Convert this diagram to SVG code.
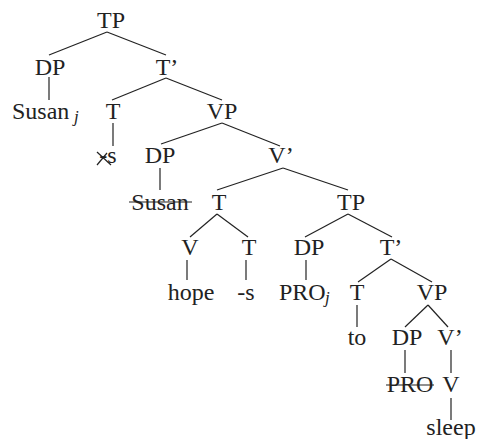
<svg xmlns="http://www.w3.org/2000/svg" width="479" height="439" viewBox="0 0 479 439">
<style>
text{font-family:"Liberation Serif","Times New Roman",serif;font-size:24px;fill:#222;text-anchor:middle}
.sub{font-size:17px;font-style:italic;text-anchor:start}
.st{text-anchor:start}
line{stroke:#222;stroke-width:1.2}
</style>
<rect width="479" height="439" fill="#fff"/>
<g id="connectors">
<line x1="107" y1="32" x2="49" y2="55"/>
<line x1="107" y1="32" x2="166" y2="55"/>
<line x1="49" y1="77" x2="49" y2="100"/>
<line x1="166" y1="78" x2="112" y2="100"/>
<line x1="166" y1="78" x2="222" y2="100"/>
<line x1="113" y1="123" x2="113" y2="146"/>
<line x1="222" y1="123" x2="161" y2="144"/>
<line x1="222" y1="123" x2="280" y2="146"/>
<line x1="160" y1="168" x2="160" y2="190"/>
<line x1="283" y1="168" x2="217" y2="190"/>
<line x1="283" y1="168" x2="348" y2="190"/>
<line x1="217" y1="214" x2="190" y2="237"/>
<line x1="217" y1="214" x2="248" y2="237"/>
<line x1="348" y1="214" x2="305" y2="237"/>
<line x1="348" y1="214" x2="392" y2="237"/>
<line x1="187" y1="260" x2="187" y2="280"/>
<line x1="246" y1="260" x2="246" y2="280"/>
<line x1="306" y1="260" x2="306" y2="280"/>
<line x1="391" y1="259" x2="358" y2="282"/>
<line x1="391" y1="259" x2="432" y2="282"/>
<line x1="357" y1="305" x2="357" y2="327"/>
<line x1="428" y1="305" x2="405" y2="327"/>
<line x1="428" y1="305" x2="448" y2="327"/>
<line x1="405" y1="350" x2="405" y2="373"/>
<line x1="451" y1="350" x2="451" y2="373"/>
<line x1="451" y1="398" x2="451" y2="420"/>
</g>
<g id="n-TP1"><text x="111" y="28">TP</text></g>
<g id="n-DP1"><text x="50" y="75">DP</text></g>
<g id="n-T1p"><text x="167" y="75">T’</text></g>
<g id="n-Susanj"><text class="st" x="12" y="119">Susan</text><text class="sub" x="74" y="122">j</text></g>
<g id="n-T1"><text x="113" y="119">T</text></g>
<g id="n-VP1"><text x="222" y="119">VP</text></g>
<g id="n-s-struck"><text x="108" y="163">-s</text><line x1="97" y1="152" x2="111" y2="165"/><line x1="97" y1="165" x2="107" y2="153"/></g>
<g id="n-DP2"><text x="160" y="163">DP</text></g>
<g id="n-V1p"><text x="281" y="163">V’</text></g>
<g id="n-Susan-struck"><text x="160" y="210">Susan</text><line x1="129" y1="202" x2="192" y2="202"/></g>
<g id="n-T2"><text x="219" y="210">T</text></g>
<g id="n-TP2"><text x="351" y="210">TP</text></g>
<g id="n-V1"><text x="190" y="255">V</text></g>
<g id="n-T3"><text x="249" y="255">T</text></g>
<g id="n-DP3"><text x="309" y="255">DP</text></g>
<g id="n-T2p"><text x="391" y="255">T’</text></g>
<g id="n-hope"><text x="191" y="300">hope</text></g>
<g id="n-s"><text x="246" y="300">-s</text></g>
<g id="n-PROj"><text class="st" x="279" y="300">PRO</text><text class="sub" x="325" y="303">j</text></g>
<g id="n-T4"><text x="357" y="300">T</text></g>
<g id="n-VP2"><text x="432" y="300">VP</text></g>
<g id="n-to"><text x="357" y="345">to</text></g>
<g id="n-DP4"><text x="407" y="345">DP</text></g>
<g id="n-V2p"><text x="450" y="345">V’</text></g>
<g id="n-PRO-struck"><text x="410" y="392">PRO</text><line x1="386" y1="385" x2="434" y2="385"/></g>
<g id="n-V2"><text x="451" y="392">V</text></g>
<g id="n-sleep"><text x="451" y="435">sleep</text></g>
</svg>
